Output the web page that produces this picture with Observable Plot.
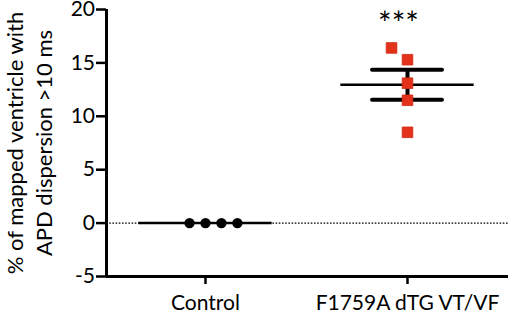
<!DOCTYPE html>
<html><head><meta charset="utf-8">
<script src="https://cdn.jsdelivr.net/npm/d3@7"></script>
<script src="https://cdn.jsdelivr.net/npm/@observablehq/plot@0.6"></script>
<style>html,body{margin:0;padding:0;background:#fff} svg{display:block}</style>
</head><body><div id="chart"></div>
<script>
// ---- data ----
const groups = ["Control", "F1759A dTG VT/VF"];
const controlValues = [0, 0, 0, 0];
const controlColumns = [-1, 0, 1, 2];      // scatter column of each point
const tgValues = [16.4, 15.3, 13.1, 11.5, 8.5];
const tgColumns = [-1, 0, 0, 0, 0];
const yTicks = [-5, 0, 5, 10, 15, 20];
const yTitle = ["% of mapped ventricle with", "APD dispersion >10 ms"];
const sigLabel = "***";

// ---- derived ----
const columnStep = 0.079;
const rows = [
  ...controlValues.map((v, i) => ({g: 0, v, col: controlColumns[i]})),
  ...tgValues.map((v, i) => ({g: 1, v, col: tgColumns[i]}))
];
const stats = [controlValues, tgValues].map((vals, g) => {
  const m = d3.mean(vals);
  const sem = vals.length > 1 ? d3.deviation(vals) / Math.sqrt(vals.length) : 0;
  return {g, m, lo: m - sem, hi: m + sem};
});
const semStats = stats.filter(d => d.hi > d.lo);
const xMin = -0.49, xMax = 1.5;

const chart = Plot.plot({
  width: 510, height: 316,
  marginLeft: 106, marginRight: 2, marginTop: 9, marginBottom: 40,
  style: {fontFamily: "Lato, sans-serif", background: "white", color: "black"},
  x: {domain: [xMin, xMax], axis: null},
  y: {domain: [yTicks[0], yTicks[yTicks.length - 1]], axis: null},
  marks: [
    Plot.ruleY([0], {x1: xMin, x2: xMax, stroke: "black", strokeWidth: 1.2, strokeDasharray: "1.6,1.6"}),
    Plot.ruleY(stats, {y: "m", x1: d => d.g - 0.33, x2: d => d.g + 0.33, stroke: "black", strokeWidth: 2.5}),
    Plot.ruleY(semStats, {y: "hi", x1: d => d.g - 0.173, x2: d => d.g + 0.173, stroke: "black", strokeWidth: 4, strokeLinecap: "round"}),
    Plot.ruleY(semStats, {y: "lo", x1: d => d.g - 0.173, x2: d => d.g + 0.173, stroke: "black", strokeWidth: 4, strokeLinecap: "round"}),
    Plot.ruleX(semStats, {x: "g", y1: "lo", y2: "hi", stroke: "black", strokeWidth: 4}),
    Plot.dot(rows.filter(d => d.g === 0), {x: d => d.g + d.col * columnStep, y: "v", r: 5.2, fill: "black", stroke: "none"}),
    Plot.dot(rows.filter(d => d.g === 1), {x: d => d.g + d.col * columnStep, y: "v", symbol: "square", r: 6, fill: "#e2331a", stroke: "#d42a18", strokeWidth: 0.8}),
    Plot.text([sigLabel], {x: [1], frameAnchor: "top", dx: -9, dy: 15, fontSize: 32, lineAnchor: "middle", fill: "black"}),
    Plot.axisY({ticks: yTicks, tickFormat: d => String(d), label: null, tickSize: 10, tickPadding: 1.5, fontSize: 21, strokeWidth: 2.5, stroke: "black"}),
    Plot.axisX({ticks: [0, 1], tickFormat: i => groups[i], label: null, tickSize: 8, tickPadding: 11, fontSize: 21, strokeWidth: 2.5, stroke: "black"}),
    Plot.ruleX([xMin], {y1: yTicks[0], y2: yTicks[yTicks.length - 1], stroke: "black", strokeWidth: 3}),
    Plot.ruleY([yTicks[0]], {x1: xMin, x2: xMax, stroke: "black", strokeWidth: 3}),
    Plot.text([yTitle.join("\n")], {frameAnchor: "left", textAnchor: "middle", rotate: -90, dx: -78, fontSize: 22, lineHeight: 1.28, lineAnchor: "middle", fill: "black"})
  ]
});
document.getElementById("chart").appendChild(chart);
</script>
</body></html>
